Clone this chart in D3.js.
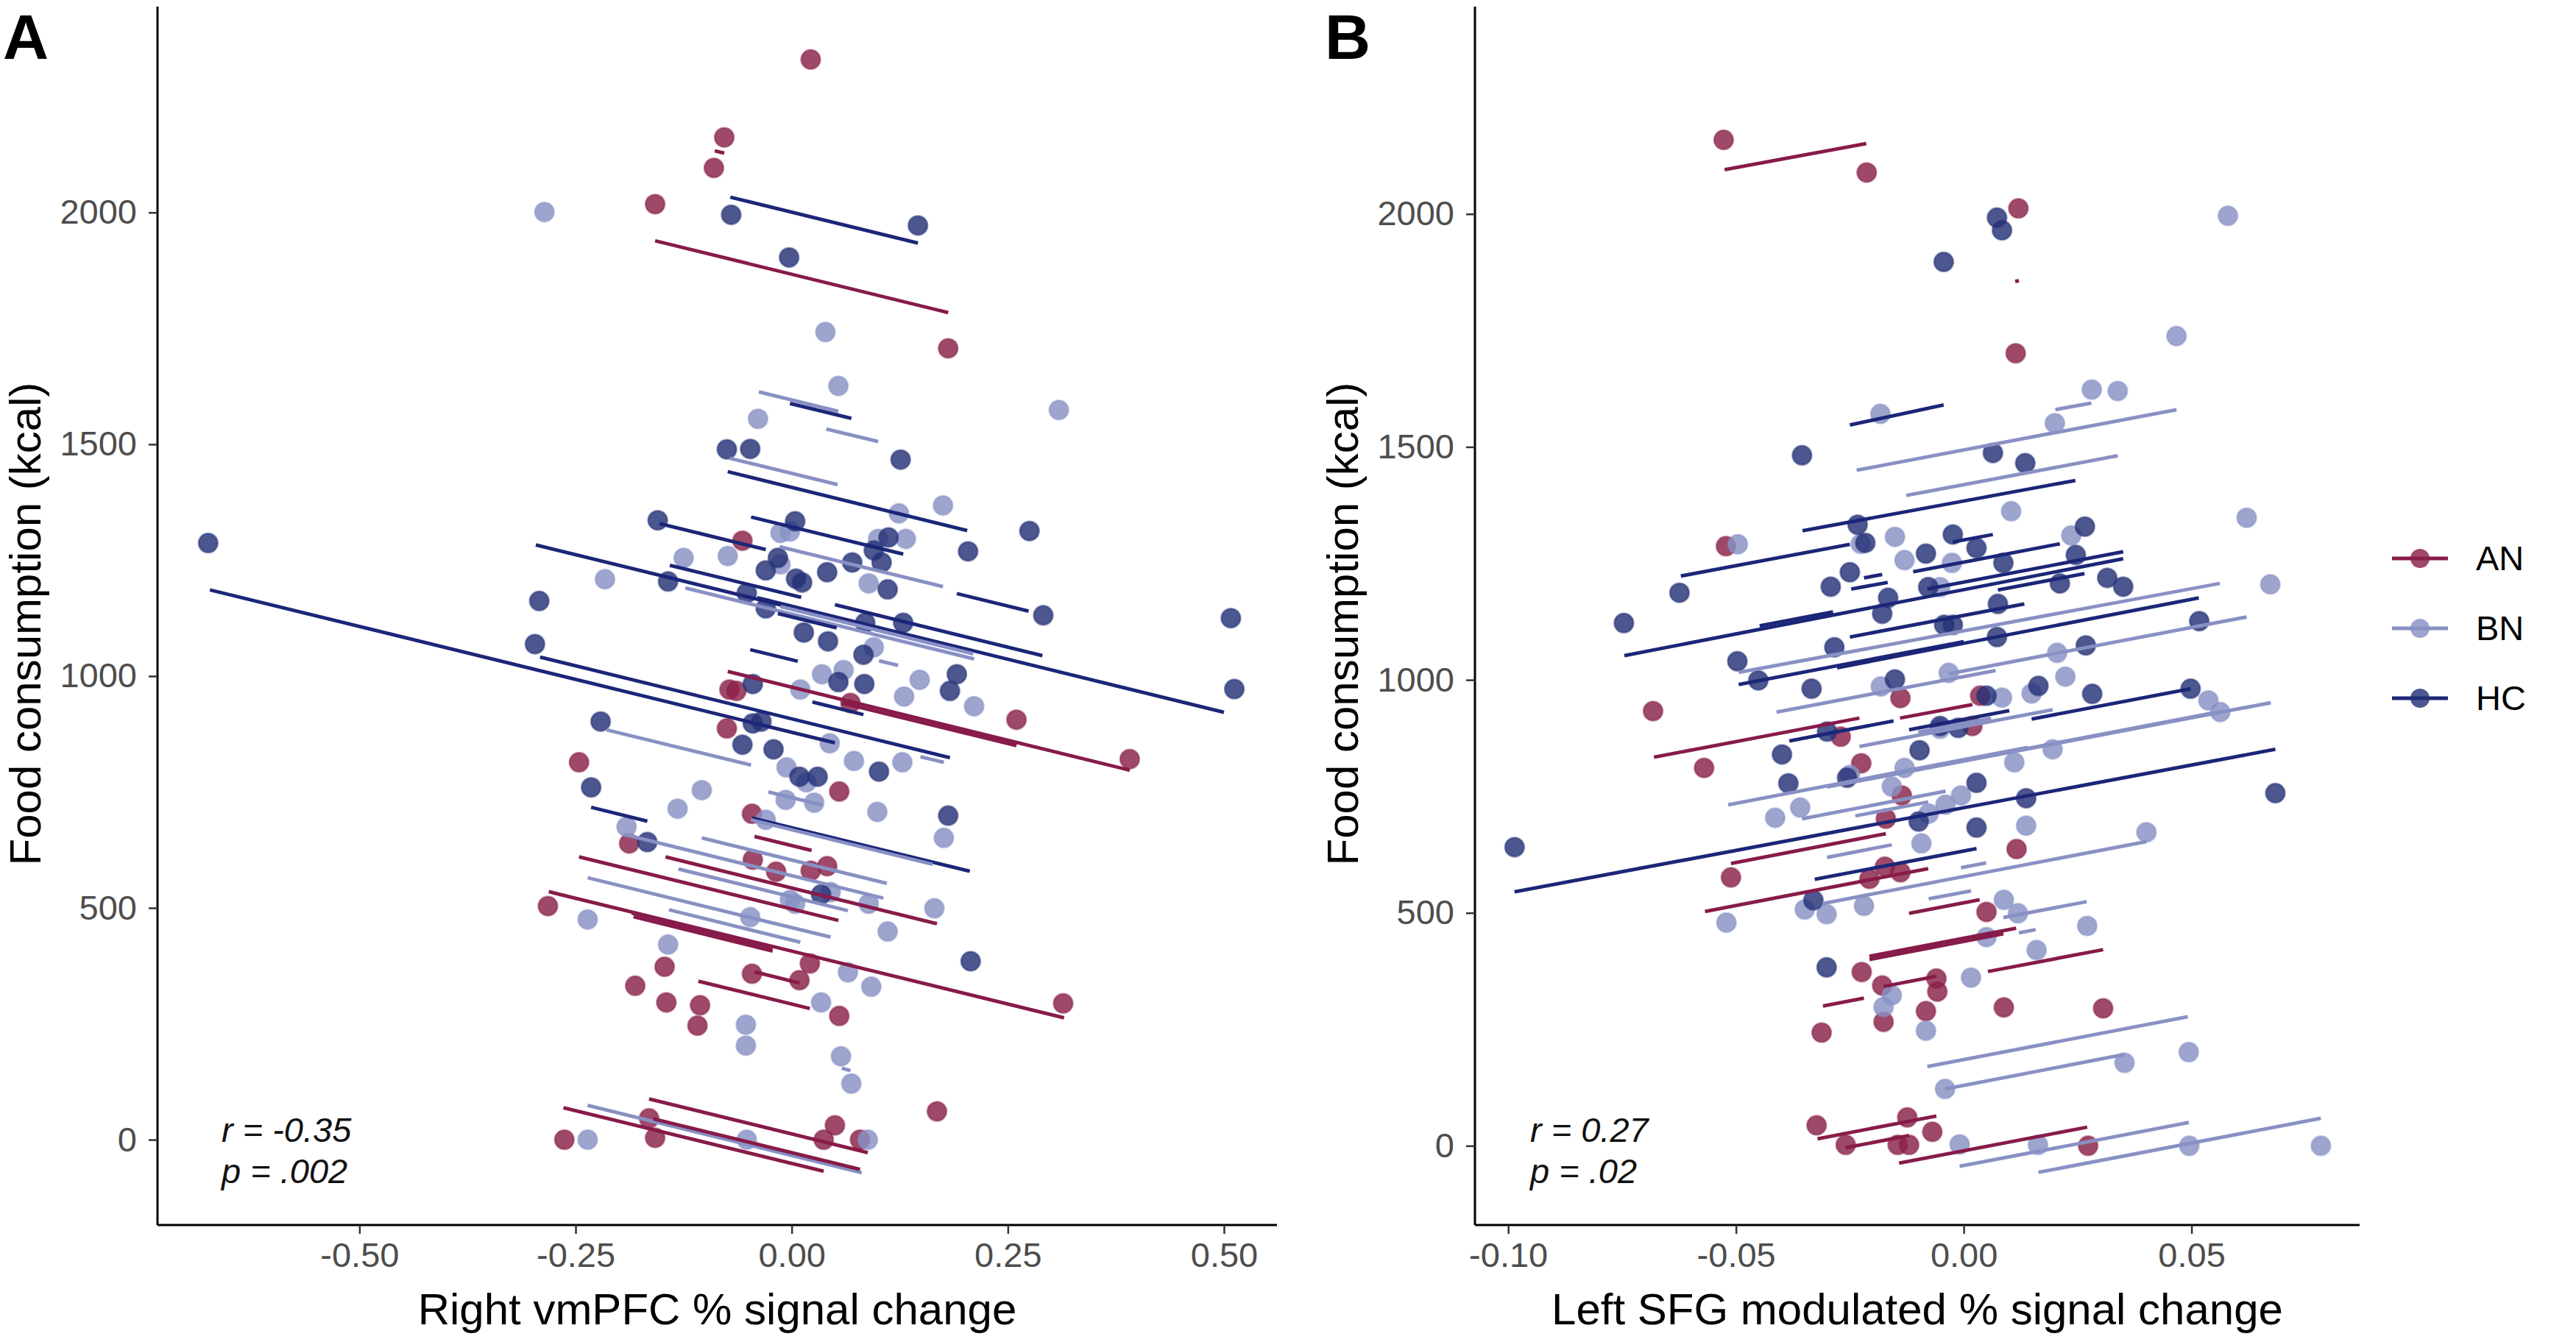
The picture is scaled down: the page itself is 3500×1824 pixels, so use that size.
<!DOCTYPE html>
<html><head><meta charset="utf-8">
<script src="https://cdn.jsdelivr.net/npm/d3@7"></script>
<style>body{margin:0;background:#fff}svg{display:block}text{font-family:"Liberation Sans",Arial,sans-serif}</style>
</head><body>
<script>
// ---------- DATA ----------
const groups = ["AN","BN","HC"];
const ticksAx = [-0.5,-0.25,0,0.25,0.5];
const ticksBx = [-0.10,-0.05,0,0.05];
const ticksY = [0,500,1000,1500,2000];

const aAN = [[0.022,2330],[-0.078,2162],[-0.090,2096],[-0.158,2018],[0.181,1707],[-0.057,1292],
[-0.072,971],[-0.064,968],[0.260,906],[0.391,821],[0.068,942],[-0.075,887],[-0.246,814],
[-0.188,639],[-0.046,703],[-0.045,604],[-0.282,504],[-0.147,373],[-0.181,332],[-0.145,296],
[-0.106,290],[-0.109,246],[-0.046,358],[0.055,751],[-0.018,578],[0.022,580],[0.041,590],
[0.021,380],[0.009,344],[0.055,267],[0.314,294],[0.168,61],[0.050,31],[0.037,0],[0.079,0],
[-0.263,0],[-0.165,46],[-0.158,4]];
const aBN = [[-0.286,2001],[0.039,1742],[0.054,1626],[0.309,1574],[-0.039,1555],[0.175,1368],[-0.013,1309],[-0.002,1312],[0.124,1351],[0.100,1296],[0.132,1296],[-0.013,1241],[0.089,1200],[-0.125,1255],[-0.074,1259],[-0.216,1209],[0.095,1062],[0.035,1004],[0.060,1013],[0.148,992],[0.130,956],[0.211,935],[0.010,971],[0.044,855],[0.072,817],[0.128,814],[-0.006,803],[0.017,771],[-0.007,733],[0.026,727],[0.099,707],[0.176,651],[-0.030,690],[0.045,534],[0.004,509],[-0.002,517],[0.089,509],[0.165,499],[-0.048,480],[0.111,449],[0.065,361],[0.092,330],[0.034,296],[-0.053,248],[-0.053,203],[0.057,180],[0.069,121],[0.088,0],[-0.052,0],[-0.104,754],[-0.132,714],[-0.191,675],[-0.236,475],[-0.143,421],[-0.236,0]];
const aHC = [[-0.070,1995],[0.146,1972],[-0.003,1903],[-0.075,1489],[-0.048,1490],[0.126,1467],[0.004,1334],[-0.155,1336],[0.275,1313],[0.112,1299],[0.204,1269],[0.095,1271],[0.104,1245],[-0.016,1255],[0.070,1245],[-0.030,1228],[0.041,1224],[0.005,1210],[0.012,1202],[0.111,1187],[-0.052,1179],[-0.030,1146],[0.291,1131],[0.085,1115],[0.129,1115],[-0.675,1287],[0.508,1125],[0.512,972],[-0.143,1204],[-0.292,1162],[-0.297,1069],[-0.221,902],[-0.232,760],[-0.167,642],[0.014,1094],[0.042,1075],[0.083,1046],[0.054,987],[0.084,983],[0.191,1004],[0.183,968],[-0.045,983],[-0.045,898],[-0.035,902],[-0.057,852],[-0.021,842],[0.101,794],[0.009,783],[0.030,783],[0.181,699],[0.034,529],[0.207,385]];

const linesA = [
["HC",-0.071,2033,0.146,1934],["AN",-0.158,1939,0.181,1784],["AN",-0.089,2133,-0.078,2128],
["BN",-0.038,1613,0.054,1571],["HC",-0.002,1588,0.069,1556],["BN",0.040,1533,0.100,1506],
["BN",-0.072,1470,0.053,1413],["HC",-0.074,1441,0.203,1314],["HC",-0.153,1329,-0.030,1273],
["HC",-0.047,1343,0.129,1263],["HC",-0.296,1283,0.200,1056],["HC",-0.673,1186,0.050,856],
["HC",-0.291,1041,0.183,824],["HC",-0.040,1169,0.500,922],["HC",0.050,1154,0.290,1044],
["HC",0.191,1178,0.274,1140],["BN",-0.014,1279,0.175,1193],["BN",-0.123,1190,0.211,1037],
["HC",-0.141,1239,0.011,1170],["HC",-0.016,1135,0.052,1104],["HC",-0.048,1057,0.007,1032],
["BN",-0.013,1150,0.210,1048],["AN",-0.074,1010,0.391,797],["AN",0.058,942,0.260,850],
["HC",0.024,944,0.083,917],["BN",0.101,1033,0.123,1023],["BN",-0.214,884,-0.047,808],
["HC",-0.232,717,-0.167,687],["BN",-0.193,658,0.106,521],["HC",-0.046,694,0.206,579],
["BN",-0.047,690,0.163,594],["AN",-0.043,654,0.023,624],["BN",-0.027,750,0.035,722],
["BN",0.149,826,0.176,814],["AN",-0.246,610,0.054,473],["AN",-0.281,535,0.315,263],
["BN",-0.236,565,0.045,437],["AN",-0.146,610,0.168,466],["BN",-0.104,651,0.110,553],
["BN",-0.131,584,0.065,494],["BN",-0.142,496,0.010,426],["AN",-0.185,489,-0.022,414],
["AN",-0.183,481,-0.022,407],["AN",-0.108,342,0.021,283],["AN",-0.043,362,0.009,338],
["BN",0.058,154,0.068,149],["AN",-0.264,69,0.037,-68],["BN",-0.236,74,0.081,-71],
["AN",-0.165,88,0.088,-28],["AN",-0.160,45,0.079,-64]];

const bAN = [[-0.0527,2159],[-0.0213,2089],[0.0120,2012],[0.0114,1701],[-0.0522,1287],[-0.0139,961],[-0.0682,933],[-0.0270,878],[-0.0570,811],[-0.0225,821],[-0.0136,752],[-0.0171,702],[-0.0511,576],[-0.0173,599],[-0.0139,587],[-0.0207,573],[-0.0224,373],[-0.0179,344],[-0.0176,266],[-0.0312,243],[-0.0083,289],[-0.0323,44],[-0.0124,61],[-0.0259,2],[-0.0145,2],[-0.0120,2],[-0.0069,30],[0.0036,966],[0.0019,901],[0.0116,637],[0.0050,502],[-0.0060,359],[-0.0058,331],[0.0088,297],[0.0306,295],[0.0273,0]];
const bBN = [[-0.0183,1571],[-0.0496,1291],[-0.0226,1292],[-0.0151,1307],[-0.0130,1257],[0.0580,1996],[0.0467,1738],[0.0281,1623],[0.0338,1620],[0.0200,1551],[0.0104,1362],[0.0621,1348],[0.0236,1310],[-0.0026,1251],[-0.0052,1199],[0.0673,1205],[0.0205,1058],[-0.0033,1015],[0.0223,1007],[-0.0182,986],[-0.0250,796],[-0.0130,811],[-0.0158,771],[-0.0359,726],[-0.0414,704],[-0.0093,649],[-0.0349,507],[-0.0301,497],[-0.0219,515],[-0.0521,479],[-0.0158,323],[-0.0176,298],[-0.0083,247],[0.0084,962],[0.0149,971],[0.0537,956],[0.0563,931],[-0.0052,895],[0.0195,851],[0.0111,823],[-0.0006,752],[-0.0040,732],[-0.0077,713],[0.0137,687],[0.0401,673],[0.0088,528],[0.0119,499],[0.0271,472],[0.0050,448],[0.0160,420],[0.0016,361],[0.0494,201],[0.0353,178],[-0.0041,122],[-0.0009,3],[0.0163,2],[0.0495,0],[0.0784,0]];
const bHC = [[-0.0355,1482],[-0.0233,1333],[-0.0216,1294],[-0.0250,1231],[-0.0292,1200],[-0.0624,1187],[-0.0746,1122],[-0.0166,1176],[-0.0179,1142],[-0.0284,1070],[-0.0497,1040],[-0.0083,1271],[-0.0078,1199],[0.0073,1992],[0.0084,1965],[-0.0044,1897],[0.0064,1487],[0.0135,1465],[0.0266,1329],[-0.0024,1312],[0.0028,1283],[0.0087,1251],[0.0246,1268],[0.0211,1207],[0.0315,1219],[0.0350,1200],[0.0075,1163],[-0.0043,1118],[-0.0024,1118],[0.0073,1092],[0.0517,1126],[0.0268,1074],[-0.0451,999],[-0.0334,981],[-0.0151,1001],[-0.0300,889],[-0.0399,840],[-0.0097,849],[-0.0256,790],[-0.0385,778],[-0.0099,696],[-0.0986,641],[-0.0330,527],[-0.0301,383],[0.0164,987],[0.0050,966],[0.0282,970],[0.0498,981],[-0.0052,901],[-0.0012,897],[0.0028,779],[0.0137,746],[0.0028,683],[0.0684,757]];

const linesB = [
["AN",-0.0525,2095,-0.0214,2151],["AN",0.0113,1855,0.0121,1857],["HC",-0.0250,1547,-0.0044,1590],
["BN",-0.0235,1450,0.0467,1580],["BN",-0.0126,1396,0.0338,1481],["BN",0.0201,1580,0.0280,1594],
["HC",-0.0354,1320,0.0245,1428],["HC",-0.0621,1223,-0.0250,1291],["HC",-0.0219,1219,-0.0179,1226],
["HC",-0.0247,1195,-0.0167,1209],["HC",-0.0024,1296,0.0064,1312],["HC",-0.0111,1232,0.0211,1292],
["HC",-0.0080,1195,0.0350,1275],["HC",0.0075,1193,0.0265,1228],["HC",-0.0745,1052,0.0350,1260],
["HC",-0.0448,1116,-0.0287,1146],["HC",-0.0250,1092,0.0133,1163],["BN",-0.0494,1016,0.0562,1207],
["HC",-0.0278,1026,0.0516,1176],["BN",-0.0033,1013,0.0621,1135],["HC",-0.0494,990,0.0000,1082],
["BN",-0.0411,931,0.0070,1020],["AN",-0.0140,918,0.0019,947],["HC",-0.0383,869,-0.0154,912],
["AN",-0.0680,834,-0.0229,918],["HC",0.0149,916,0.0498,981],["HC",-0.0120,893,0.0100,934],
["BN",-0.0100,888,0.0060,918],["BN",-0.0229,857,0.0195,936],["BN",-0.0300,770,0.0674,951],
["BN",-0.0250,780,0.0563,932],["BN",-0.0517,732,0.0140,855],["BN",-0.0355,702,-0.0040,761],
["BN",-0.0238,708,-0.0078,738],["HC",-0.0986,545,0.0684,851],["AN",-0.0511,606,-0.0171,670],
["BN",-0.0300,619,-0.0158,646],["HC",-0.0327,572,0.0028,638],["AN",-0.0568,503,-0.0078,595],
["BN",-0.0310,520,0.0401,653],["BN",-0.0006,597,0.0049,607],["BN",-0.0077,530,0.0016,547],
["AN",-0.0120,499,0.0035,528],["BN",0.0087,490,0.0270,524],["AN",-0.0207,407,0.0115,467],
["AN",-0.0207,400,0.0087,455],["BN",0.0121,457,0.0158,464],["AN",0.0053,374,0.0306,421],
["AN",-0.0309,300,-0.0219,317],["AN",-0.0176,342,-0.0060,364],["BN",-0.0080,170,0.0492,277],
["BN",-0.0041,122,0.0353,196],["AN",-0.0321,15,-0.0060,64],["AN",-0.0259,-4,-0.0120,22],
["AN",-0.0142,-37,0.0271,40],["BN",-0.0009,-44,0.0494,50],["BN",0.0164,-57,0.0784,59]];

const statsA = ["r = -0.35","p = .002"];
const statsB = ["r = 0.27","p = .02"];

// ---------- STYLE ----------
const W = 3500, H = 1824;
const lineCol = {AN:"#871B49", BN:"#8890C4", HC:"#1C2678"};
const ptCol = {AN:"#8A2149", BN:"#8891C5", HC:"#253176"};

const svg = d3.select("body").append("svg").attr("width",W).attr("height",H);

function panel(cfg){
  const x = d3.scaleLinear().domain(cfg.xdom).range(cfg.xr);
  const y = d3.scaleLinear().domain(cfg.ydom).range(cfg.yr);
  const g = svg.append("g");
  const pts = [];
  cfg.pts.forEach(([grp,arr])=>arr.forEach(d=>pts.push({g:grp,x:d[0],y:d[1]})));
  g.selectAll("circle.pt").data(pts).enter().append("circle")
    .attr("cx",d=>x(d.x)).attr("cy",d=>y(d.y)).attr("r",13)
    .attr("fill",d=>ptCol[d.g]).attr("fill-opacity",0.82)
    .attr("stroke",d=>ptCol[d.g]).attr("stroke-opacity",0.5).attr("stroke-width",2.5);
  g.selectAll("line.fit").data(cfg.lines).enter().append("line")
    .attr("x1",d=>x(d[1])).attr("y1",d=>y(d[2])).attr("x2",d=>x(d[3])).attr("y2",d=>y(d[4]))
    .attr("stroke",d=>lineCol[d[0]]).attr("stroke-width",4.8);
  const xa = g.append("g").attr("transform",`translate(0,${cfg.yr[0]})`)
    .call(d3.axisBottom(x).tickValues(cfg.xticks).tickFormat(d3.format(".2f")).tickSize(12).tickPadding(12));
  const ya = g.append("g").attr("transform",`translate(${cfg.xr[0]},0)`)
    .call(d3.axisLeft(y).tickValues(ticksY).tickFormat(d3.format("d")).tickSize(12).tickPadding(16));
  [xa,ya].forEach(a=>{
    a.select(".domain").attr("stroke","#000").attr("stroke-width",3);
    a.selectAll(".tick line").attr("stroke","#333").attr("stroke-width",2.5);
    a.selectAll(".tick text").attr("fill","#4D4D4D").style("font-size","47px")
      .style("font-family",'"Liberation Sans",Arial,sans-serif');
  });
  xa.selectAll(".tick text").text(d=>d3.format(".2f")(d).replace("−","-"));
  ya.select(".domain").attr("d",`M0,${cfg.yr[1]}V${cfg.yr[0]}`);
  xa.select(".domain").attr("d",`M${cfg.xr[0]},0H${cfg.xr[1]}`);
  g.append("text").attr("x",(cfg.xr[0]+cfg.xr[1])/2).attr("y",1800).attr("text-anchor","middle")
    .style("font-size","60px").attr("fill","#000").text(cfg.xtitle);
  g.append("text").attr("transform",`translate(${cfg.xr[0]-159},848) rotate(-90)`).attr("text-anchor","middle")
    .style("font-size","60px").attr("fill","#000").text("Food consumption (kcal)");
  g.append("text").attr("x",cfg.lab).attr("y",80).style("font-size","86px").style("font-weight","bold")
    .attr("fill","#000").text(cfg.label);
  g.append("text").attr("x",cfg.sx).attr("y",1552).style("font-size","47px").style("font-style","italic")
    .attr("fill","#111").text(cfg.stats[0]);
  g.append("text").attr("x",cfg.sx).attr("y",1608).style("font-size","47px").style("font-style","italic")
    .attr("fill","#111").text(cfg.stats[1]);
}

panel({xdom:[-0.7336,0.5613], xr:[214,1735], ydom:[-184,2444], yr:[1665,9],
  xticks:ticksAx, pts:[["AN",aAN],["BN",aBN],["HC",aHC]], lines:linesA,
  xtitle:"Right vmPFC % signal change", label:"A", lab:4, sx:301, stats:statsA});
panel({xdom:[-0.1073,0.0869], xr:[2004,3206], ydom:[-170,2445], yr:[1665,9],
  xticks:ticksBx, pts:[["AN",bAN],["BN",bBN],["HC",bHC]], lines:linesB,
  xtitle:"Left SFG modulated % signal change", label:"B", lab:1800, sx:2079, stats:statsB});

// legend
const legY = d3.scalePoint().domain(groups).range([759,949]);
const lg = svg.append("g");
groups.forEach(gname=>{
  const yy = legY(gname);
  lg.append("line").attr("x1",3250).attr("x2",3326).attr("y1",yy).attr("y2",yy)
    .attr("stroke",lineCol[gname]).attr("stroke-width",4.8);
  lg.append("circle").attr("cx",3288).attr("cy",yy).attr("r",13).attr("fill",ptCol[gname]).attr("fill-opacity",0.82);
  lg.append("text").attr("x",3364).attr("y",yy).attr("dy","0.35em").style("font-size","47px").attr("fill","#000").text(gname);
});
</script>
</body></html>
